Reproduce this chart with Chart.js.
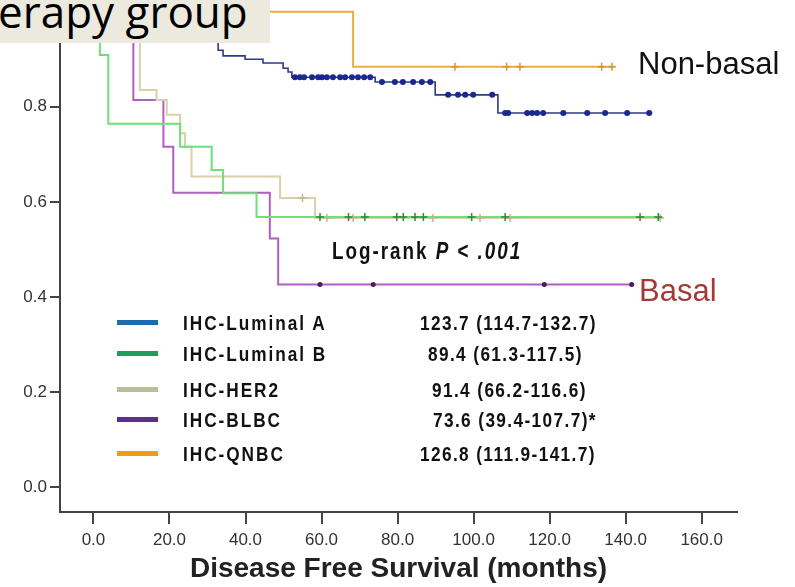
<!DOCTYPE html>
<html>
<head>
<meta charset="utf-8">
<script src="https://cdn.jsdelivr.net/npm/chart.js@4.4.1/dist/chart.umd.min.js"></script>
<style>
  html, body { margin: 0; padding: 0; background: #fff; }
  #wrap { position: relative; width: 795px; height: 587px; overflow: hidden; }
  #c { position: absolute; left: 0; top: 0; }
  .ov { position: absolute; white-space: nowrap; line-height: 1; }
  #groupBox { position: absolute; left: 0; top: 0; width: 270px; height: 43px; background: #ECE9DE; overflow: hidden; }
  #groupBox span { position: absolute; left: -2px; top: -11px; font: 44px 'Open Sans', sans-serif; line-height: 1; color: #000; white-space: nowrap; }
  .tag { font-family: 'Liberation Sans', Arial, sans-serif; font-size: 31px; }
  .cond { font-family: 'Liberation Sans', Arial, sans-serif; font-weight: bold; color: #111; transform: scaleX(0.82); transform-origin: 0 0; }
  .swatch { position: absolute; left: 117px; width: 41px; height: 5px; }
</style>
</head>
<body>
<div id="wrap">
  <canvas id="c" width="795" height="587"></canvas>
  <div id="groupBox"><span>erapy group</span></div>
  <div class="ov tag" style="left:638px; top:48px; color:#111;">Non-basal</div>
  <div class="ov tag" style="left:639px; top:275px; color:#A23B36;">Basal</div>
  <div class="ov cond" id="logrank" style="left:332px; top:240px; font-size:23px; letter-spacing:2.4px;">Log-rank <i>P</i> &lt; <i>.001</i></div>
  <div id="legend"></div>
</div>
<script>
// Axis ticks
const xTicks = [0, 20, 40, 60, 80, 100, 120, 140, 160];
const yTicks = [0, 0.2, 0.4, 0.6, 0.8, 1.0];

// Subtypes and median disease free survival (95% CI), months
const groups = ['IHC-Luminal A', 'IHC-Luminal B', 'IHC-HER2', 'IHC-BLBC', 'IHC-QNBC'];
const medianDFS = ['123.7 (114.7-132.7)', '89.4 (61.3-117.5)', '91.4 (66.2-116.6)', '73.6 (39.4-107.7)*', '126.8 (111.9-141.7)'];

// Kaplan-Meier steps: month of each change and the estimate after it
const lumATime = [0, 32.8, 34.1, 39.9, 44.6, 49.9, 51.2, 52.2, 74.1, 89.9, 106.4, 147.0];
const lumASurv = [1.0, 0.919, 0.907, 0.900, 0.892, 0.881, 0.873, 0.862, 0.852, 0.825, 0.787, 0.787];
const lumACens = [53.0, 54.3, 55.4, 57.5, 59.1, 60.1, 61.4, 63.0, 64.9, 66.2, 68.0, 69.6, 71.2, 72.8,
                  75.9, 79.3, 81.4, 84.1, 86.4, 88.6, 93.3, 95.9, 97.8, 99.9, 104.9,
                  108.3, 109.1, 114.1, 115.4, 116.7, 118.3, 123.6, 129.9, 134.6, 140.4, 146.2];

const lumBTime = [0, 1.7, 3.9, 22.8, 31.1, 34.1, 42.9, 149.1];
const lumBSurv = [1.0, 0.909, 0.764, 0.716, 0.667, 0.618, 0.568, 0.568];
const lumBCens = [59.6, 67.1, 71.4, 79.8, 81.5, 84.6, 86.8, 99.5, 108.3, 143.8, 148.6];

const her2Time = [0, 12.2, 16.6, 19.3, 22.8, 24.1, 25.8, 49.1, 58.3, 149.1];
const her2Surv = [1.0, 0.835, 0.814, 0.783, 0.744, 0.716, 0.653, 0.608, 0.566, 0.566];
const her2Cens = [55.0, 61.4, 68.3, 89.3, 101.7, 109.6, 149.1];

const blbcTime = [0, 10.5, 18.4, 21.0, 46.4, 48.6, 141.6];
const blbcSurv = [1.0, 0.814, 0.716, 0.619, 0.523, 0.426, 0.426];
const blbcCens = [59.6, 73.6, 118.6, 141.6];

const qnbcTime = [0, 68.3, 137.0];
const qnbcSurv = [1.0, 0.884, 0.884];
const qnbcCens = [95.1, 108.7, 112.2, 133.7, 136.4];

// Drawing styles per subtype
const lineColors = ['#2E3A86', '#6EE07A', '#D9D0A8', '#B060C0', '#E9AD45'];
const markColors = ['#1A2890', '#2E8B3E', '#C2B68C', '#4A1A5A', '#D89530'];
const keyColors  = ['#1F6AA8', '#1E9E5A', '#BDBD9E', '#5A2F8F', '#F39A1B'];

const series = [
  [lumATime, lumASurv, lumACens],
  [lumBTime, lumBSurv, lumBCens],
  [her2Time, her2Surv, her2Cens],
  [blbcTime, blbcSurv, blbcCens],
  [qnbcTime, qnbcSurv, qnbcCens]
];

function levelAt(times, survs, t) {
  let s = survs[0];
  for (let i = 0; i < times.length; i++) if (times[i] <= t) s = survs[i];
  return s;
}

const datasets = [];
series.forEach(([times, survs, cens], i) => {
  datasets.push({
    label: groups[i],
    data: times.map((t, k) => ({ x: t, y: survs[k] })),
    showLine: true,
    stepped: 'before',
    borderColor: lineColors[i],
    borderWidth: i === 0 ? 1.6 : 2,
    pointRadius: 0,
    fill: false,
    order: 2
  });
  const cross = (i === 1 || i === 2 || i === 4);
  datasets.push({
    label: groups[i] + ' censored',
    data: cens.map(t => ({ x: t, y: levelAt(times, survs, t) })),
    showLine: false,
    pointStyle: cross ? 'cross' : 'circle',
    pointRadius: cross ? 4 : (i === 0 ? 3 : 2.5),
    pointBorderWidth: cross ? 1.5 : 0,
    backgroundColor: markColors[i],
    borderColor: markColors[i],
    order: 1
  });
});

function noPad(s) { s.paddingTop = 0; s.paddingBottom = 0; s.paddingLeft = 0; s.paddingRight = 0; }

new Chart(document.getElementById('c'), {
  type: 'scatter',
  data: { datasets },
  options: {
    responsive: false,
    animation: false,
    devicePixelRatio: 1,
    layout: { autoPadding: false, padding: { left: 0, top: 0, right: 58, bottom: 0 } },
    plugins: { legend: { display: false }, tooltip: { enabled: false } },
    scales: {
      x: {
        type: 'linear', min: -8.8, max: 169.3,
        afterBuildTicks: s => { s.ticks = xTicks.map(v => ({ value: v })); },
        afterFit: s => { s.height = 75; noPad(s); },
        ticks: { callback: v => Number(v).toFixed(1), font: { family: 'Liberation Sans', size: 17 }, color: '#333', padding: 6, maxRotation: 0, autoSkip: false },
        grid: { display: true, drawOnChartArea: false, drawTicks: true, tickLength: 12, color: '#444', lineWidth: 2 },
        border: { display: true, color: '#444', width: 2 },
        title: { display: true, text: 'Disease Free Survival (months)', font: { family: 'Liberation Sans', size: 28, weight: 'bold' }, color: '#222', padding: { top: 0, bottom: 1 } }
      },
      y: {
        type: 'linear', min: -0.0526, max: 1.0246,
        afterBuildTicks: s => { s.ticks = yTicks.map(v => ({ value: v })); },
        afterFit: s => { s.width = 60; noPad(s); },
        ticks: { callback: v => Number(v).toFixed(1), font: { family: 'Liberation Sans', size: 17 }, color: '#333', padding: 3 },
        grid: { display: true, drawOnChartArea: false, drawTicks: true, tickLength: 10, color: '#444', lineWidth: 2 },
        border: { display: true, color: '#444', width: 2 }
      }
    }
  }
});

// Key with median DFS column
const rowCenters = [322.5, 353, 389, 419, 453];
const medianLeft = [420, 428, 431.7, 433, 420];
const legend = document.getElementById('legend');
groups.forEach((g, i) => {
  const sw = document.createElement('div');
  sw.className = 'swatch';
  sw.style.top = (rowCenters[i] - 2.5) + 'px';
  sw.style.background = keyColors[i];
  legend.appendChild(sw);

  const lab = document.createElement('div');
  lab.className = 'ov cond';
  lab.style.cssText += 'left:183px;font-size:21px;letter-spacing:2.4px;top:' + (rowCenters[i] - 10.3) + 'px';
  lab.textContent = g;
  legend.appendChild(lab);

  const med = document.createElement('div');
  med.className = 'ov cond';
  med.style.cssText += 'font-size:21px;letter-spacing:1.7px;left:' + medianLeft[i] + 'px;top:' + (rowCenters[i] - 10.3) + 'px';
  med.textContent = medianDFS[i];
  legend.appendChild(med);
});
</script>
</body>
</html>
